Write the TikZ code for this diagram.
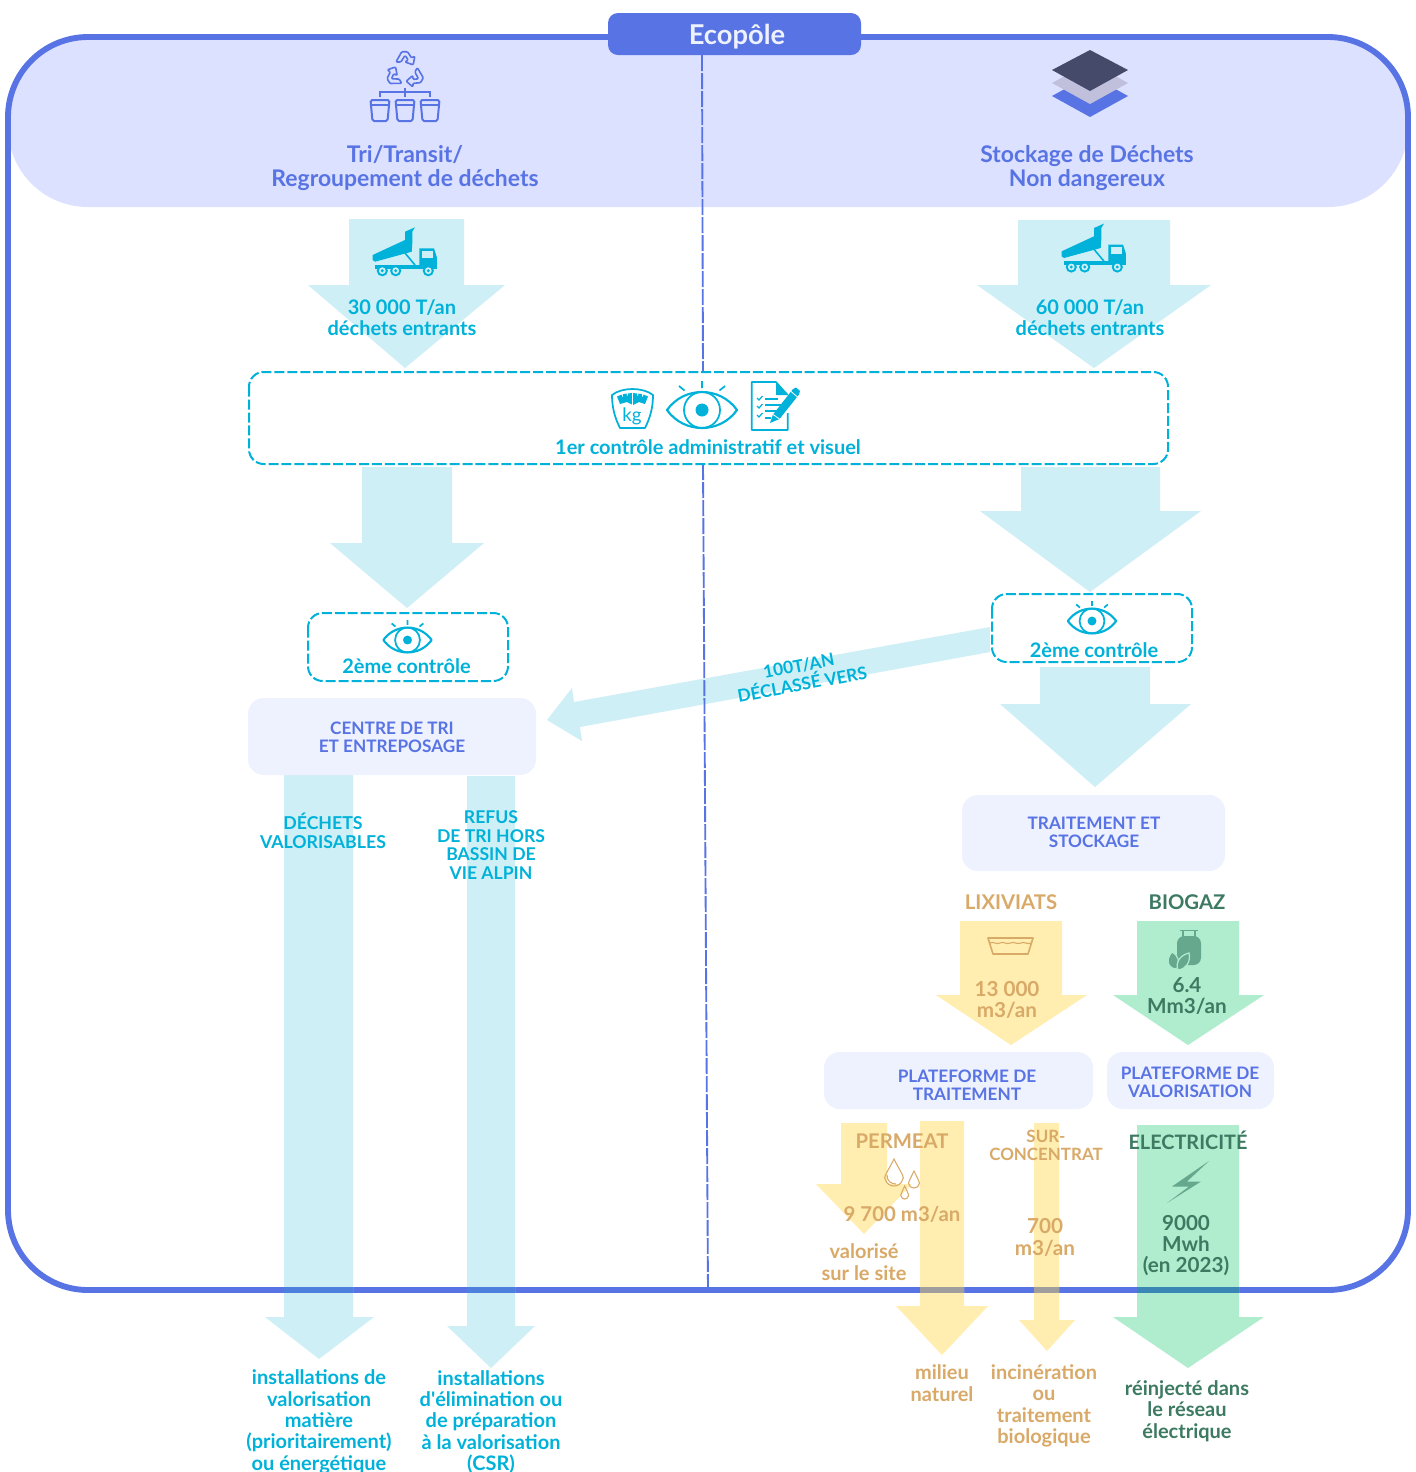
\documentclass[tikz,border=0pt]{standalone}
\usepackage{fontspec}
\setmainfont{Lato}
\newfontfamily\latoplain{Lato}
\usetikzlibrary{calc}
\definecolor{mainblue}{HTML}{5873E4}
\definecolor{bandblue}{HTML}{DCE1FF}
\definecolor{softbox}{HTML}{EEF1FE}
\definecolor{cyantxt}{HTML}{00B2D9}
\definecolor{arrowblue}{HTML}{CEEFF6}
\definecolor{arrowyel}{HTML}{FFEEB0}
\definecolor{arrowgrn}{HTML}{B0ECCE}
\definecolor{tantxt}{HTML}{D9A968}
\definecolor{grntxt}{HTML}{3C7A62}
\definecolor{icongrn}{HTML}{66A88E}
\definecolor{darkstack}{HTML}{454A6B}
\definecolor{midstack}{HTML}{C0C0DC}
\definecolor{crossblue}{HTML}{4C80DC}
\definecolor{crossyel}{HTML}{A09E9C}
\definecolor{crossgrn}{HTML}{3A86B4}
\tikzset{
  x=0.75pt,y=-0.75pt,
  dashbox/.style={draw=cyantxt,line width=1.5pt,dash pattern=on 7.5pt off 2.2pt,rounded corners=11pt},
  softrect/.style={fill=softbox,rounded corners=12pt},
  axisline/.style={draw=mainblue,line width=1.4pt,dash pattern=on 12pt off 1.5pt},
  iconline/.style={line width=1.2pt,line join=round,line cap=round},
}
% x1 x2 shaft, h1 h2 head, ytop, yshoulder, tip x, tip y
\newcommand{\blockarrow}[9]{\fill[#1] (#2,#6) -- (#3,#6) -- (#3,#7) -- (#5,#7) -- (#8,#9) -- (#4,#7) -- (#2,#7) -- cycle;}
\newcommand{\txt}[7]{\node[inner sep=0pt,align=center,text=#6,font=\fontsize{#4}{#5}\selectfont\bfseries] (#1) at (#2,#3) {#7};}
\newcommand{\eyeicon}[3]{\begin{scope}[shift={(#1,#2)},scale=#3]
  \draw[cyantxt,line width=1.6pt,line join=round] (-35,0) .. controls (-18,-24) and (18,-24) .. (35,0) .. controls (18,24) and (-18,24) .. (-35,0) -- cycle;
  \draw[cyantxt,line width=1.3pt] (0,0) circle (18);
  \fill[cyantxt] (0,0) circle (6.5);
  \draw[cyantxt,line width=1.3pt] (0,-29) -- (0,-22) (-23,-24) -- (-17.5,-19.5) (23,-24) -- (17.5,-19.5);
\end{scope}}
\newcommand{\truck}[2]{\begin{scope}[shift={(#1,#2)}]
  \fill[cyantxt] (372.7,255) -- (405,240) -- (405,231.7) -- (415,227.3) -- (412.3,231.7) -- (412.3,243.3) -- (411.7,251.7) -- (375,261.7) -- (372.7,260) -- cycle;
  \fill[cyantxt] (375,265) rectangle (437,268.5);
  \fill[cyantxt] (419.3,248.3) -- (434,248.3) -- (436.8,257) -- (436.8,266) -- (419.3,266) -- cycle;
  \fill[arrowblue] (422,250.8) rectangle (433,257.5);
  \draw[cyantxt,line width=1.2pt] (405,253) -- (415,265);
  \foreach \wx in {382.3,395.7,428.3}{
    \fill[cyantxt] (\wx,270.7) circle (5.6);
    \fill[arrowblue] (\wx,270.7) circle (3.4);
    \fill[cyantxt] (\wx,270.7) circle (1.6);}
\end{scope}}
\newcommand{\dropicon}[4]{\draw[tantxt,line width=.8pt] (#1,#2) .. controls ($(#1,#2)+(#4*.5,#4*1)$) and ($(#1,#3)+(#4,-#4*1.1)$) .. ($(#1,#3)+(#4*.98,-#4*.85)$) .. controls ($(#1,#3)+(#4*.8,-#4*.15)$) and ($(#1,#3)+(#4*.3,0)$) .. (#1,#3) .. controls ($(#1,#3)+(-#4*.3,0)$) and ($(#1,#3)+(-#4*.8,-#4*.15)$) .. ($(#1,#3)+(-#4*.98,-#4*.85)$) .. controls ($(#1,#3)+(-#4,-#4*1.1)$) and ($(#1,#2)+(-#4*.5,#4*1)$) .. (#1,#2) -- cycle;}
\begin{document}
\begin{tikzpicture}
\useasboundingbox (0,0) rectangle (1416,1472);
\fill[white] (0,0) rectangle (1416,1472);
% band and frame
\fill[bandblue,rounded corners=60pt] (8,37) rectangle (1408,207);
\draw[mainblue,line width=4.4pt,rounded corners=60pt] (8,37) rectangle (1408,1290);
% arrows
\blockarrow{arrowblue}{349}{464}{308}{505}{219}{285}{405}{368}
\blockarrow{arrowblue}{1018}{1170}{977}{1211}{220}{285}{1094}{368}
\blockarrow{arrowblue}{362}{452}{330}{484}{467}{543}{407}{608}
\blockarrow{arrowblue}{1021}{1160}{980}{1201}{467}{511}{1090}{592}
\blockarrow{arrowblue}{1040}{1150}{1000}{1191}{667}{704}{1095}{787}
\blockarrow{arrowblue}{284}{353}{265}{374}{775}{1317}{319}{1359}
\blockarrow{arrowblue}{467}{515}{447}{535}{776}{1326}{491}{1368}
\fill[arrowblue] (990,627) -- (574,702) -- (572,688) -- (547,720) -- (582,741) -- (580,727) -- (990,652) -- cycle;
\blockarrow{arrowyel}{960}{1062}{936}{1087}{921}{995}{1011}{1045}
\blockarrow{arrowgrn}{1137}{1239}{1113}{1264}{921}{995}{1188}{1045}
\blockarrow{arrowyel}{841}{887}{816}{912}{1123}{1184}{864}{1234}
\blockarrow{arrowyel}{920}{964}{896}{988}{1121}{1306}{942}{1355}
\blockarrow{arrowyel}{1034}{1059}{1019}{1075}{1123}{1320}{1047}{1351}
\blockarrow{arrowgrn}{1137}{1239}{1113}{1264}{1125}{1317}{1188}{1368}
% frame seen through the arrows
\fill[crossblue] (284,1287) rectangle (353,1293);
\fill[crossblue] (467,1287) rectangle (515,1293);
\fill[crossyel] (920,1287) rectangle (964,1293);
\fill[crossyel] (1034,1287) rectangle (1059,1293);
\fill[crossgrn] (1137,1287) rectangle (1239,1293);
% axis
\coordinate (axisA) at (702,55);
\coordinate (axisB) at (703,372);
\coordinate (axisC) at (703,464);
\coordinate (axisD) at (708,1292);
\draw[axisline] (axisA) -- (axisB);
\draw[axisline] (axisC) -- (axisD);
% title
\node[fill=mainblue,rounded corners=7.5pt,minimum width=189.75pt,minimum height=31.5pt,inner sep=0pt] (title) at (734.5,34) {};
\txt{titletext}{737}{36.5}{20.5}{22}{softbox}{Ecopôle}
% dashed boxes
\draw[dashbox] (249,372) rectangle (1168,464);
\draw[dashbox] (308,613) rectangle (508,681);
\draw[dashbox] (992,594) rectangle (1192,662);
% soft boxes
\fill[softrect] (248,698) rectangle (536,775);
\fill[softrect] (962,795) rectangle (1225,871);
\fill[softrect] (824,1052) rectangle (1093,1109);
\fill[softrect] (1107,1052) rectangle (1274,1109);
% texts
\txt{head1}{405}{168}{17.2}{18}{mainblue}{Tri/Transit/\\Regroupement de déchets}
\txt{head2}{1087}{168}{17.2}{18}{mainblue}{Stockage de Déchets\\Non dangereux}
\txt{in1}{402}{318}{15}{15.8}{cyantxt}{30 000 T/an\\déchets entrants}
\txt{in2}{1090}{318}{15}{15.8}{cyantxt}{60 000 T/an\\déchets entrants}
\txt{ctl1}{708}{447}{15}{16}{cyantxt}{1er contrôle administratif et visuel}
\txt{ctl2}{406.5}{666}{15}{16}{cyantxt}{2ème contrôle}
\txt{ctl3}{1094}{650}{15}{16}{cyantxt}{2ème contrôle}
\node[rotate=10.5,inner sep=0pt,align=center,text=cyantxt,font=\fontsize{13}{14.2}\selectfont\bfseries] (decl) at (800.5,675) {100T/AN\\DÉCLASSÉ VERS};
\txt{cdt}{392}{737}{12.9}{13.6}{mainblue}{CENTRE DE TRI\\ET ENTREPOSAGE}
\txt{trt}{1094}{832.5}{12.9}{14}{mainblue}{TRAITEMENT ET\\STOCKAGE}
\txt{dv}{323}{831}{13.3}{14.2}{cyantxt}{DÉCHETS\\VALORISABLES}
\txt{rf}{491}{845}{13.2}{13.8}{cyantxt}{REFUS\\DE TRI HORS\\BASSIN DE\\VIE ALPIN}
\txt{lix}{1011}{902}{15.2}{16}{tantxt}{LIXIVIATS}
\txt{bio}{1187}{902}{15.2}{16}{grntxt}{BIOGAZ}
\txt{m13}{1007}{1000}{15.5}{16}{tantxt}{13 000\\m3/an}
\txt{m64}{1187}{996}{15.5}{16.2}{grntxt}{6.4\\Mm3/an}
\txt{pl1}{967}{1085}{12.9}{13.6}{mainblue}{PLATEFORME DE\\TRAITEMENT}
\txt{pl2}{1190}{1082}{12.9}{13.6}{mainblue}{PLATEFORME DE\\VALORISATION}
\txt{perm}{902}{1141}{15.2}{16}{tantxt}{PERMEAT}
\txt{sur}{1046}{1145}{12.7}{13.6}{tantxt}{SUR-\\CONCENTRAT}
\txt{elec}{1188}{1140.5}{14.9}{16}{grntxt}{ELECTRICITÉ}
\txt{m97}{902}{1214.5}{15.3}{16}{tantxt}{9 700 m3/an}
\txt{m7}{1045}{1237}{15.5}{16.5}{tantxt}{700\\m3/an}
\txt{mwh}{1186}{1245.5}{15.5}{15.7}{grntxt}{9000\\Mwh\\(en 2023)}
\txt{val}{864}{1262}{15}{16}{tantxt}{valorisé\\sur le site}
\txt{mil}{942}{1383}{15}{16}{tantxt}{milieu\\naturel}
\txt{inc}{1044}{1406}{15}{16}{tantxt}{incinération\\ou\\traitement\\biologique}
\txt{rei}{1187}{1411}{15}{16}{grntxt}{réinjecté dans\\le réseau\\électrique}
\txt{ins1}{319}{1422}{15}{16}{cyantxt}{installations de\\valorisation\\matière\\(prioritairement)\\ou énergétique}
\txt{ins2}{491}{1422}{15}{16}{cyantxt}{installations\\d{\latoplain\bfseries'}élimination ou\\de préparation\\à la valorisation\\(CSR)}
% stack icon
\fill[mainblue] (1090,75) -- (1128,96) -- (1090,117) -- (1052,96) -- cycle;
\fill[midstack] (1090,62) -- (1128,83) -- (1090,104) -- (1052,83) -- cycle;
\fill[darkstack] (1090,50) -- (1128,70) -- (1090,91) -- (1052,70) -- cycle;
% recycling icon
\begin{scope}[shift={(405,71)},scale=0.82]
\foreach \ang in {0,120,240}{
 \draw[mainblue,line width=1.2pt,line join=round,rounded corners=.8pt,rotate=\ang] (-11,-11) -- (-4,-23.5) -- (3,-23.5) -- (8,-16) -- (12,-18) -- (10,-7.5) -- (0,-11) -- (4,-13.5) -- (0,-19) -- (-5,-11) -- cycle;}
\end{scope}
\draw[mainblue,line width=1.3pt] (405,88) -- (405,97) (380,97) -- (380,92) -- (430,92) -- (430,97);
\foreach \bx in {380,405,430}{
 \draw[mainblue,line width=1.5pt,line join=round,rounded corners=1.2pt] ($(\bx,100)+(-9.5,0)$) -- ($(\bx,100)+(9.5,0)$) -- ($(\bx,100)+(7.5,21)$) -- ($(\bx,100)+(-7.5,21)$) -- cycle;
 \draw[mainblue,line width=1.1pt] ($(\bx,105)+(-9,0)$) -- ($(\bx,105)+(9,0)$);}
% trucks
\truck{0}{0}
\truck{689}{-3.7}
% scale icon
\draw[cyantxt,line width=1.3pt,line join=round] (612,395) .. controls (622,387) and (643,387) .. (653,395) .. controls (653,408) and (650,418) .. (645,428) -- (620,428) .. controls (615,418) and (612,408) .. (612,395) -- cycle;
\fill[cyantxt] (617,396.5) .. controls (625,392) and (640,392) .. (648,396.5) -- (645,404) -- (639,402) -- (633,405) -- (627,402) -- (620,404) -- cycle;
\draw[white,line width=.7pt] (622,393) -- (622.6,396.5) (627,392) -- (627.4,395.5) (638,392) -- (637.6,395.5) (643,393) -- (642.4,396.5) (632.5,392) -- (632.5,405);
\node[inner sep=0pt,text=cyantxt,font=\fontsize{14}{14}\selectfont] (kg) at (632,416) {kg};
% eyes
\eyeicon{702}{410}{1}
\eyeicon{407.5}{640}{0.69}
\eyeicon{1092}{621}{0.69}
% document icon
\draw[cyantxt,line width=1.2pt,line join=round] (787.7,395) -- (776,382) -- (751.7,382) -- (751.7,430) -- (787.7,430) -- (787.7,413);
\fill[cyantxt] (776,382) -- (787.7,395) -- (776,395) -- cycle;
\foreach \cy in {398,406,415}{
 \draw[cyantxt,line width=.9pt] (757,\cy) -- (759,{\cy+2}) -- (762.5,{\cy-2});}
\draw[cyantxt,line width=.9pt] (765,399) -- (778,399) (765,405) -- (781,405) (765,411) -- (777,411) (765,418) -- (771,418);
\fill[cyantxt] (770,423) -- (773,414.5) -- (793,389) -- (796,387.5) -- (800,391) -- (799,394.5) -- (779.5,419) -- cycle;
\draw[white,line width=.6pt] (773,414.5) -- (779.5,419) (791,391.5) -- (797.5,397);
% basin icon
\draw[tantxt,iconline] (988,938) -- (1033,938) -- (1028,954) -- (993,954) -- cycle;
\draw[tantxt,line width=.8pt] (990,943) .. controls (994,941) and (996,945) .. (1000,943) .. controls (1004,941) and (1006,945) .. (1010.5,943) .. controls (1014,941) and (1017,945) .. (1021,943) .. controls (1024,941) and (1027,945) .. (1031,943);
% gas bottle icon
\fill[icongrn,rounded corners=5.5pt] (1177,936) rectangle (1201,965);
\draw[icongrn,line width=1.1pt] (1183,938) -- (1183,931) (1195,931) -- (1195,938) (1180,930.5) -- (1198,930.5);
\draw[arrowgrn,line width=.9pt,fill=icongrn] (1172,952) .. controls (1165,960) and (1168,969) .. (1177,969) .. controls (1180,962) and (1179,956) .. (1172,952) -- cycle;
\draw[arrowgrn,line width=.9pt,fill=icongrn] (1189,953) .. controls (1180,955) and (1175,963) .. (1178,970) .. controls (1186,969) and (1191,962) .. (1189,953) -- cycle;
% drops
\dropicon{894}{1159}{1186}{9.5}
\draw[tantxt,line width=.8pt] (887,1175) .. controls (887,1181) and (891,1184) .. (896,1184);
\dropicon{914}{1171}{1188}{5.5}
\dropicon{904.7}{1186}{1199}{4}
% lightning
\fill[icongrn] (1209,1161) -- (1172,1186.5) -- (1189,1186.5) -- (1167,1203) -- (1201,1181.5) -- (1187,1181.5) -- cycle;
\end{tikzpicture}
\end{document}
